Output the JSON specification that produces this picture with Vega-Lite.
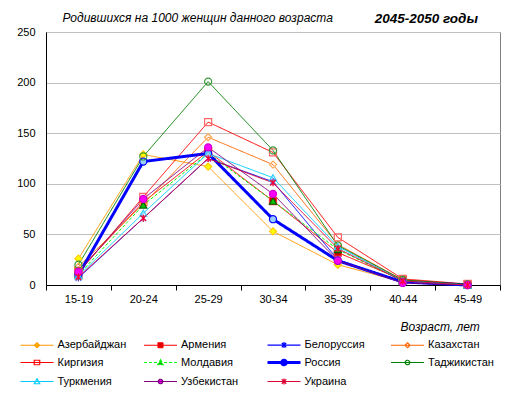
{
  "$schema": "https://vega.github.io/schema/vega-lite/v6.json",
  "width": 454,
  "height": 253,
  "autosize": {"type": "none"},
  "padding": {"left": 46, "top": 32, "right": 16, "bottom": 110},
  "background": "white",
  "config": {
    "font": "Liberation Sans",
    "view": {"stroke": "#808080", "strokeWidth": 1},
    "axis": {"labelFont": "Liberation Sans", "labelFontSize": 11, "labelColor": "black", "titleFont": "Liberation Sans"}
  },
  "title": {
    "text": "2045-2050  годы",
    "anchor": "end",
    "frame": "group",
    "dx": -22,
    "offset": -14,
    "fontSize": 13.5,
    "fontStyle": "italic",
    "fontWeight": "bold",
    "font": "Liberation Sans",
    "color": "black"
  },
  "data": {"values": [
    {"country": "Азербайджан", "age": "15-19", "v": 26},
    {"country": "Азербайджан", "age": "20-24", "v": 129},
    {"country": "Азербайджан", "age": "25-29", "v": 117},
    {"country": "Азербайджан", "age": "30-34", "v": 53},
    {"country": "Азербайджан", "age": "35-39", "v": 20},
    {"country": "Азербайджан", "age": "40-44", "v": 3},
    {"country": "Азербайджан", "age": "45-49", "v": 0},
    {"country": "Армения", "age": "15-19", "v": 14},
    {"country": "Армения", "age": "20-24", "v": 82},
    {"country": "Армения", "age": "25-29", "v": 132},
    {"country": "Армения", "age": "30-34", "v": 83},
    {"country": "Армения", "age": "35-39", "v": 32},
    {"country": "Армения", "age": "40-44", "v": 5},
    {"country": "Армения", "age": "45-49", "v": 0.5},
    {"country": "Белоруссия", "age": "15-19", "v": 7},
    {"country": "Белоруссия", "age": "20-24", "v": 66},
    {"country": "Белоруссия", "age": "25-29", "v": 125},
    {"country": "Белоруссия", "age": "30-34", "v": 102},
    {"country": "Белоруссия", "age": "35-39", "v": 25},
    {"country": "Белоруссия", "age": "40-44", "v": 3},
    {"country": "Белоруссия", "age": "45-49", "v": 0},
    {"country": "Казахстан", "age": "15-19", "v": 18},
    {"country": "Казахстан", "age": "20-24", "v": 80},
    {"country": "Казахстан", "age": "25-29", "v": 146},
    {"country": "Казахстан", "age": "30-34", "v": 119},
    {"country": "Казахстан", "age": "35-39", "v": 40},
    {"country": "Казахстан", "age": "40-44", "v": 5},
    {"country": "Казахстан", "age": "45-49", "v": 0.5},
    {"country": "Киргизия", "age": "15-19", "v": 12},
    {"country": "Киргизия", "age": "20-24", "v": 87},
    {"country": "Киргизия", "age": "25-29", "v": 161},
    {"country": "Киргизия", "age": "30-34", "v": 131},
    {"country": "Киргизия", "age": "35-39", "v": 47},
    {"country": "Киргизия", "age": "40-44", "v": 6},
    {"country": "Киргизия", "age": "45-49", "v": 1},
    {"country": "Молдавия", "age": "15-19", "v": 10},
    {"country": "Молдавия", "age": "20-24", "v": 79},
    {"country": "Молдавия", "age": "25-29", "v": 130},
    {"country": "Молдавия", "age": "30-34", "v": 83},
    {"country": "Молдавия", "age": "35-39", "v": 35},
    {"country": "Молдавия", "age": "40-44", "v": 4},
    {"country": "Молдавия", "age": "45-49", "v": 0},
    {"country": "Россия", "age": "15-19", "v": 10},
    {"country": "Россия", "age": "20-24", "v": 122},
    {"country": "Россия", "age": "25-29", "v": 130},
    {"country": "Россия", "age": "30-34", "v": 65},
    {"country": "Россия", "age": "35-39", "v": 24},
    {"country": "Россия", "age": "40-44", "v": 3},
    {"country": "Россия", "age": "45-49", "v": 0},
    {"country": "Таджикистан", "age": "15-19", "v": 20},
    {"country": "Таджикистан", "age": "20-24", "v": 127},
    {"country": "Таджикистан", "age": "25-29", "v": 201},
    {"country": "Таджикистан", "age": "30-34", "v": 133},
    {"country": "Таджикистан", "age": "35-39", "v": 39},
    {"country": "Таджикистан", "age": "40-44", "v": 5},
    {"country": "Таджикистан", "age": "45-49", "v": 0.5},
    {"country": "Туркмения", "age": "15-19", "v": 9},
    {"country": "Туркмения", "age": "20-24", "v": 71},
    {"country": "Туркмения", "age": "25-29", "v": 130},
    {"country": "Туркмения", "age": "30-34", "v": 106},
    {"country": "Туркмения", "age": "35-39", "v": 38},
    {"country": "Туркмения", "age": "40-44", "v": 4},
    {"country": "Туркмения", "age": "45-49", "v": 0},
    {"country": "Узбекистан", "age": "15-19", "v": 13},
    {"country": "Узбекистан", "age": "20-24", "v": 85},
    {"country": "Узбекистан", "age": "25-29", "v": 136},
    {"country": "Узбекистан", "age": "30-34", "v": 90},
    {"country": "Узбекистан", "age": "35-39", "v": 24},
    {"country": "Узбекистан", "age": "40-44", "v": 2},
    {"country": "Узбекистан", "age": "45-49", "v": 0},
    {"country": "Украина", "age": "15-19", "v": 8},
    {"country": "Украина", "age": "20-24", "v": 66},
    {"country": "Украина", "age": "25-29", "v": 125},
    {"country": "Украина", "age": "30-34", "v": 101},
    {"country": "Украина", "age": "35-39", "v": 36},
    {"country": "Украина", "age": "40-44", "v": 4},
    {"country": "Украина", "age": "45-49", "v": 0}
  ]},
  "encoding": {
    "x": {
      "field": "age", "type": "nominal",
      "scale": {"type": "band", "paddingInner": 0, "paddingOuter": 0},
      "axis": {
        "labelAngle": 0, "tickBand": "extent", "grid": false,
        "domainColor": "black", "tickColor": "black", "tickSize": 5, "labelPadding": 3,
        "title": "Возраст, лет", "titleFontSize": 12, "titleFontStyle": "italic", "titleFontWeight": "normal",
        "titleAlign": "left", "titleBaseline": "middle", "titleX": 354, "titleY": 41, "titleColor": "black"
      }
    },
    "y": {
      "field": "v", "type": "quantitative",
      "scale": {"domain": [0, 250], "nice": false},
      "axis": {
        "values": [0, 50, 100, 150, 200, 250], "tickSize": 0, "labelPadding": 11,
        "domainColor": "black", "gridColor": "#C0C0C0",
        "title": "Родившихся на 1000 женщин данного возраста", "titleAngle": 0,
        "titleFontSize": 12, "titleFontStyle": "italic", "titleFontWeight": "normal",
        "titleAlign": "left", "titleBaseline": "middle", "titleX": 16, "titleY": -15, "titleColor": "black"
      }
    }
  },
  "layer": [
    {
      "mark": {"type": "line"},
      "encoding": {
        "color": {"field": "country", "type": "nominal",
          "scale": {"range": ["#FF9900","#FF0000","#0000FF","#FF6600","#FF0000","#00FF00","#0000FF","#008000","#00CCFF","#800080","#DD0033"]},
          "legend": {
            "title": null,
            "orient": "none",
            "legendX": -14.5,
            "legendY": 306,
            "direction": "horizontal",
            "columns": 4,
            "gridAlign": "all",
            "columnPadding": 11.5,
            "rowPadding": 2,
            "symbolSize": 100,
            "labelOffset": 15,
            "labelFont": "Liberation Sans",
            "labelFontSize": 11,
            "labelColor": "black",
            "symbolLimit": 20,
            "encode": {
              "symbols": {"update": {
                "shape": {"signal": "datum.value === 'Армения' ? 'M-3.3,0H3.3M-0.5,-0.5H0.5V0.5H-0.5Z' : datum.value === 'Киргизия' ? 'M-3.3,0H3.3M-0.55,-0.45H0.55V0.45H-0.55Z' : (datum.value === 'Белоруссия' || datum.value === 'Украина') ? 'M-3.3,0H3.3M-0.45,-0.45L0.45,0.45M-0.45,0.45L0.45,-0.45M0,-0.6V0.6' : (datum.value === 'Азербайджан' || datum.value === 'Казахстан') ? 'M-3.3,0H3.3M0,-0.5L0.5,0L0,0.5L-0.5,0Z' : (datum.value === 'Молдавия' || datum.value === 'Туркмения') ? 'M-3.3,0H3.3M0,-0.55L0.55,0.45H-0.55Z' : 'M-3.3,0H3.3M-0.45,0A0.45,0.45 0 1,0 0.45,0A0.45,0.45 0 1,0 -0.45,0Z'"},
                "fill": {"signal": "datum.value === 'Азербайджан' ? '#FFCC00' : datum.value === 'Армения' ? '#CC0000' : datum.value === 'Молдавия' ? '#00AA00' : datum.value === 'Россия' ? '#99CCFF' : datum.value === 'Узбекистан' ? '#FF00FF' : (datum.value === 'Белоруссия' || datum.value === 'Украина') ? 'transparent' : 'white'"},
                "strokeWidth": {"signal": "datum.value === 'Россия' ? 3 : 1.2"},
                "strokeDash": {"signal": "datum.value === 'Молдавия' ? [3,2] : [1,0]"},
                "size": {"value": 100},
                "opacity": {"value": 1}
              }}
            }
          }
        },
        "strokeWidth": {"field": "country", "type": "nominal", "legend": null,
          "scale": {"type": "ordinal", "domain": ["Азербайджан","Армения","Белоруссия","Казахстан","Киргизия","Молдавия","Россия","Таджикистан","Туркмения","Узбекистан","Украина"],
                    "range": [1,1,1,1,1,1,3,1,1,1,1]}},
        "strokeDash": {"field": "country", "type": "nominal", "legend": null,
          "scale": {"domain": ["Азербайджан","Армения","Белоруссия","Казахстан","Киргизия","Молдавия","Россия","Таджикистан","Туркмения","Узбекистан","Украина"],
                    "range": [[1,0],[1,0],[1,0],[1,0],[1,0],[3,2],[1,0],[1,0],[1,0],[1,0],[1,0]]}}
      }
    },
    {
      "mark": {"type": "point", "size": 50, "strokeWidth": 1.2, "opacity": 1},
      "encoding": {
        "shape": {"field": "country", "type": "nominal", "legend": null,
          "scale": {"domain": ["Азербайджан","Армения","Белоруссия","Казахстан","Киргизия","Молдавия","Россия","Таджикистан","Туркмения","Узбекистан","Украина"],
                    "range": ["diamond","square","M-0.8,-0.8L0.8,0.8M-0.8,0.8L0.8,-0.8M0,-1V1","diamond","square","triangle-up","circle","circle","triangle-up","circle","M-0.8,-0.8L0.8,0.8M-0.8,0.8L0.8,-0.8M0,-1V1"]}},
        "fill": {"field": "country", "type": "nominal", "legend": null,
          "scale": {"domain": ["Азербайджан","Армения","Белоруссия","Казахстан","Киргизия","Молдавия","Россия","Таджикистан","Туркмения","Узбекистан","Украина"],
                    "range": ["#FFFF00","#CC0000","transparent","transparent","transparent","#00CC00","#99CCFF","transparent","transparent","#FF00FF","transparent"]}},
        "stroke": {"field": "country", "type": "nominal", "legend": null,
          "scale": {"domain": ["Азербайджан","Армения","Белоруссия","Казахстан","Киргизия","Молдавия","Россия","Таджикистан","Туркмения","Узбекистан","Украина"],
                    "range": ["#FFCC00","#FF3333","#3366FF","#FFAA55","#FF6666","#006600","#0000FF","#339933","#33CCFF","#CC00CC","#FF0033"]}}
      }
    }
  ]
}
